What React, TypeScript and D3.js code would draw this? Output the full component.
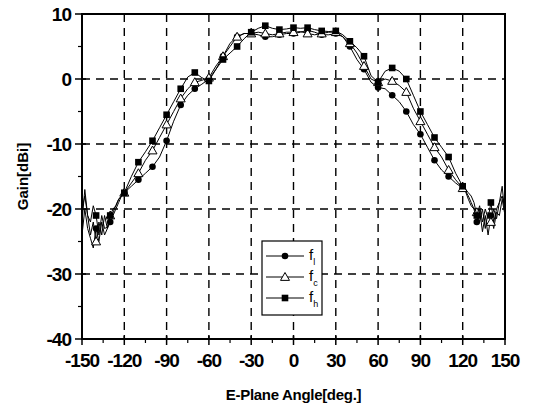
import React from "react";
import * as d3 from "d3";

// measured angles (deg), finer steps in the noisy back region
const angles = [
  -150, -148, -146, -144, -142, -140, -138, -136, -134, -132, -130, -128, -126, -124, -122,
  -120, -115, -110, -105, -100, -95, -90, -85, -80, -75, -70, -65, -60, -55, -50, -45, -40,
  -35, -30, -25, -20, -15, -10, -5, 0, 5, 10, 15, 20, 25, 30, 35, 40, 45, 50, 55, 60, 65, 70,
  75, 80, 85, 90, 95, 100, 105, 110, 115, 120,
  122, 124, 126, 128, 130, 132, 134, 136, 138, 140, 142, 144, 146, 148, 150,
];

const gainL = [
  -24, -20, -23, -24.5, -26, -23, -25, -22, -24, -23, -22, -20.5, -19.5, -18.5, -18,
  -17.5, -16.5, -15.5, -14.5, -13.5, -12, -9.5, -6.5, -4, -2.5, -1.5, -0.8, 0, 1.5, 3.5, 5.5, 6.5,
  7, 7, 6.8, 6.5, 6.5, 6.8, 7, 7, 7.2, 7.5, 7.2, 6.8, 6.8, 7, 6.5, 5, 3, 1.5, -0.5, -1.3, -1.5, -2.5,
  -3.5, -5, -7, -8.5, -10.5, -12.5, -14, -15, -16, -16.8,
  -17.3, -18.5, -19.5, -20, -22, -20, -23.5, -21, -24, -21, -23, -20.5, -21, -18.5, -21,
];

const gainC = [
  -22, -17, -21, -24, -22, -25, -22, -24, -21, -23, -21, -20, -19.5, -18.5, -18,
  -17.5, -16, -14.5, -12.5, -11, -9, -7, -5, -3, -1.5, -0.5, -0.2, 0.2, 2, 3.5, 5, 6.5,
  7, 7, 7.2, 7, 6.8, 7, 7.2, 7.2, 7.3, 7, 6.8, 7, 7.2, 7.2, 6.5, 5.5, 4, 2, 0, -0.5, 0, -0.3,
  -1, -2, -4.5, -6.5, -8.5, -10.5, -12, -14, -15.5, -16.8,
  -17.2, -18, -19, -20, -20.5, -22, -20, -23, -20.5, -22, -20, -21.5, -19, -16.5, -21,
];

const gainH = [
  -20, -18, -21, -22, -19.5, -21, -24, -21, -23, -22.8, -21, -21, -20, -19, -18,
  -17.5, -15, -12.8, -11.2, -9.5, -7.5, -5.5, -3.5, -1.5, 0.3, 1, 0.2, -0.3, 1.5, 3, 4, 5,
  6.2, 7.2, 7.8, 8.2, 7.8, 7.6, 7.7, 7.9, 7.8, 7.9, 7.6, 7.4, 7.3, 7.4, 6.8, 5.8, 4.8, 3.5, 0.5, -0.5, 1.2, 1.7,
  1.2, 0, -2.5, -5, -7, -9, -10.5, -12, -14.5, -16.5,
  -17, -17.5, -18, -19, -21, -19.5, -22, -20, -21.5, -19, -22, -20, -19, -18, -20,
];

const xTicks = [-150, -120, -90, -60, -30, 0, 30, 60, 90, 120, 150];
const xMinor = [-135, -105, -75, -45, -15, 15, 45, 75, 105, 135];
const yTicks = [10, 0, -10, -20, -30, -40];
const yMinor = [5, -5, -15, -25, -35];
const xGrid = [-120, -90, -60, -30, 0, 30, 60, 90, 120];
const yGrid = [0, -10, -20, -30];

const W = 534;
const H = 409;
const L = 82, R = 505, T = 14, B = 339;
const FONT = "'Liberation Sans', Arial, sans-serif";

const x = d3.scaleLinear().domain([-150, 150]).range([L, R]);
const y = d3.scaleLinear().domain([-40, 10]).range([B, T]);

type Pt = [number, number];

const Marker = ({ kind, cx, cy }: { kind: string; cx: number; cy: number }) => {
  if (kind === "circle") return <circle cx={cx} cy={cy} r={3.3} fill="#000" />;
  if (kind === "square")
    return <rect x={cx - 3.3} y={cy - 3.3} width={6.6} height={6.6} fill="#000" />;
  const s = 4.5;
  return (
    <path
      d={`M${cx},${cy - s} L${cx + s},${cy + s * 0.75} L${cx - s},${cy + s * 0.75} Z`}
      fill="#fff"
      stroke="#000"
      strokeWidth={1}
    />
  );
};

const seriesList = [
  { name: "l", kind: "circle", values: gainL },
  { name: "c", kind: "triangle", values: gainC },
  { name: "h", kind: "square", values: gainH },
];

export default function App() {
  const line = d3
    .line<Pt>()
    .x((d) => x(d[0]))
    .y((d) => y(d[1]));

  return (
    <svg
      width={W}
      height={H}
      style={{ position: "absolute", left: 0, top: 0, background: "#fff" }}
      fontFamily={FONT}
    >
      <rect x={0} y={0} width={W} height={H} fill="#fff" />
      {/* dashed grid */}
      {xGrid.map((g) => (
        <line key={"gx" + g} x1={x(g)} x2={x(g)} y1={T} y2={B} stroke="#000" strokeWidth={1.4} strokeDasharray="8,6" />
      ))}
      {yGrid.map((g) => (
        <line key={"gy" + g} x1={L} x2={R} y1={y(g)} y2={y(g)} stroke="#000" strokeWidth={1.4} strokeDasharray="8,6" />
      ))}

      {/* series */}
      {seriesList.map((s) => {
        const pts: Pt[] = angles.map((a, i) => [a, s.values[i]]);
        return (
          <g key={s.name}>
            <path d={line(pts) || ""} fill="none" stroke="#000" strokeWidth={1} />
            {pts
              .filter((p) => p[0] % 10 === 0 && Math.abs(p[0]) < 150)
              .map((p) => (
                <Marker key={p[0]} kind={s.kind} cx={x(p[0])} cy={y(p[1])} />
              ))}
          </g>
        );
      })}

      {/* frame */}
      <rect x={L} y={T} width={R - L} height={B - T} fill="none" stroke="#000" strokeWidth={2} />

      {/* x ticks */}
      {xTicks.map((t) => (
        <g key={"xt" + t}>
          <line x1={x(t)} x2={x(t)} y1={B - 4} y2={B + 6} stroke="#000" strokeWidth={1.5} />
          <text x={x(t)} y={B + 28} textAnchor="middle" fontSize={19} fontWeight="bold" letterSpacing={-1}>
            {t}
          </text>
        </g>
      ))}
      {xMinor.map((t) => (
        <line key={"xm" + t} x1={x(t)} x2={x(t)} y1={B} y2={B + 4} stroke="#000" strokeWidth={1.2} />
      ))}

      {/* y ticks */}
      {yTicks.map((t) => (
        <g key={"yt" + t}>
          <line x1={L - 7} x2={L + 4} y1={y(t)} y2={y(t)} stroke="#000" strokeWidth={1.5} />
          <text x={L - 11} y={y(t) + 6.5} textAnchor="end" fontSize={19} fontWeight="bold" letterSpacing={-1}>
            {t}
          </text>
        </g>
      ))}
      {yMinor.map((t) => (
        <line key={"ym" + t} x1={L - 4} x2={L} y1={y(t)} y2={y(t)} stroke="#000" strokeWidth={1.2} />
      ))}

      {/* axis titles */}
      <text x={(L + R) / 2} y={400} textAnchor="middle" fontSize={15} fontWeight="bold" letterSpacing={-0.3}>
        E-Plane Angle[deg.]
      </text>
      <text
        transform={`translate(28,${(T + B) / 2}) rotate(-90)`}
        textAnchor="middle"
        fontSize={15}
        fontWeight="bold"
      >
        Gain[dBi]
      </text>

      {/* legend */}
      <rect x={262} y={241} width={60} height={74} fill="#fff" stroke="#000" strokeWidth={1.2} />
      {seriesList.map((s, i) => {
        const ly = 256 + i * 21;
        return (
          <g key={"lg" + s.name}>
            <line x1={266} x2={304} y1={ly} y2={ly} stroke="#000" strokeWidth={1} />
            <Marker kind={s.kind} cx={285} cy={ly} />
            <text x={309} y={ly + 4} fontSize={15} fontFamily={FONT}>
              f
              <tspan dy={5} fontSize={9}>
                {s.name}
              </tspan>
            </text>
          </g>
        );
      })}
    </svg>
  );
}
